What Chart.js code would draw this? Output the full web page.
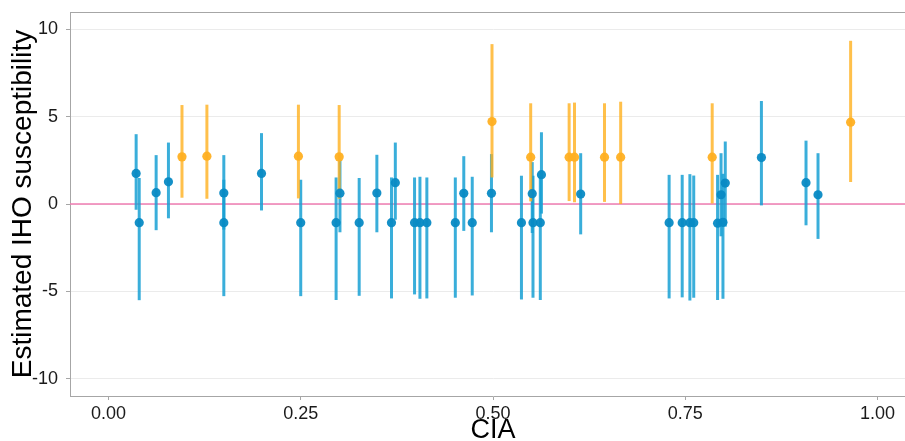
<!DOCTYPE html>
<html>
<head>
<meta charset="utf-8">
<script src="https://cdn.jsdelivr.net/npm/chart.js@4.4.1/dist/chart.umd.min.js"></script>
<style>
  html, body { margin: 0; padding: 0; background: #fff; overflow: hidden; }
  #wrap { width: 905px; height: 441px; overflow: hidden; }
</style>
</head>
<body>
<div id="wrap"><canvas id="chart" width="925" height="441"></canvas></div>
<script>
// blue group: estimate with interval
const blueCia  = [0.036, 0.040, 0.062, 0.078, 0.150, 0.150, 0.199, 0.250, 0.296, 0.301, 0.326, 0.349, 0.368, 0.373, 0.398, 0.405, 0.414, 0.451, 0.462, 0.473, 0.498, 0.537, 0.551, 0.552, 0.5615, 0.563, 0.614, 0.729, 0.746, 0.756, 0.761, 0.792, 0.7965, 0.799, 0.802, 0.849, 0.907, 0.9226];
const blueEst  = [1.75, -1.07, 0.65, 1.27, 0.63, -1.07, 1.75, -1.07, -1.07, 0.62, -1.07, 0.63, -1.07, 1.22, -1.07, -1.07, -1.07, -1.07, 0.61, -1.07, 0.61, -1.07, 0.59, -1.07, -1.07, 1.68, 0.57, -1.07, -1.07, -1.07, -1.07, -1.10, 0.53, -1.05, 1.20, 2.66, 1.22, 0.53];
const blueLow  = [-0.33, -5.51, -1.50, -0.82, -1.47, -5.28, -0.37, -5.28, -5.50, -1.62, -5.26, -1.62, -5.41, -0.90, -5.18, -5.43, -5.41, -5.37, -1.54, -5.24, -1.62, -5.47, -1.66, -5.37, -5.50, -0.55, -1.74, -5.41, -5.35, -5.53, -5.37, -5.50, -1.85, -5.43, -1.30, -0.08, -1.22, -2.00];
const blueHigh = [4.00, 1.49, 2.80, 3.52, 2.80, 1.39, 4.06, 1.39, 1.52, 2.53, 1.49, 2.82, 1.52, 3.52, 1.52, 1.56, 1.52, 1.52, 2.74, 1.56, 2.86, 1.62, 2.40, 1.62, 1.58, 4.11, 2.91, 1.67, 1.67, 1.71, 1.63, 1.67, 2.91, 1.73, 3.58, 5.90, 3.63, 2.91];

// orange group
const orangeCia  = [0.0956, 0.128, 0.247, 0.300, 0.4987, 0.549, 0.599, 0.606, 0.645, 0.666, 0.785, 0.965];
const orangeEst  = [2.70, 2.74, 2.74, 2.70, 4.72, 2.68, 2.68, 2.68, 2.68, 2.68, 2.68, 4.69];
const orangeLow  = [0.36, 0.30, 0.32, 0.30, 1.52, 0.15, 0.17, 0.10, 0.12, 0.00, 0.03, 1.26];
const orangeHigh = [5.67, 5.69, 5.69, 5.67, 9.16, 5.77, 5.77, 5.81, 5.77, 5.86, 5.77, 9.35];

const xTicks = [0, 0.25, 0.5, 0.75, 1];
const yTicks = [-10, -5, 0, 5, 10];

const groups = [
  { x: blueCia, lo: blueLow, hi: blueHigh, color: 'rgba(24,160,212,0.85)' },
  { x: orangeCia, lo: orangeLow, hi: orangeHigh, color: 'rgba(255,176,30,0.8)' }
];

const errorBars = {
  id: 'errorBars',
  beforeDatasetsDraw(chart) {
    const { ctx, chartArea: a, scales: { x, y } } = chart;
    ctx.save();
    ctx.beginPath();
    ctx.rect(a.left, a.top, a.right - a.left, a.bottom - a.top);
    ctx.clip();
    // reference line at zero
    ctx.strokeStyle = '#ef7db2';
    ctx.lineWidth = 1.3;
    ctx.beginPath();
    ctx.moveTo(a.left, y.getPixelForValue(0));
    ctx.lineTo(a.right, y.getPixelForValue(0));
    ctx.stroke();
    ctx.lineWidth = 3;
    groups.forEach(g => {
      ctx.strokeStyle = g.color;
      g.x.forEach((v, i) => {
        const px = x.getPixelForValue(v);
        ctx.beginPath();
        ctx.moveTo(px, y.getPixelForValue(g.lo[i]));
        ctx.lineTo(px, y.getPixelForValue(g.hi[i]));
        ctx.stroke();
      });
    });
    ctx.restore();
  },
  afterDraw(chart) {
    const { ctx, chartArea: a } = chart;
    ctx.save();
    ctx.strokeStyle = '#a6a6a6';
    ctx.lineWidth = 1;
    ctx.beginPath();
    ctx.moveTo(a.left, a.top + 0.5);
    ctx.lineTo(a.right, a.top + 0.5);
    ctx.stroke();
    ctx.restore();
  }
};

new Chart(document.getElementById('chart'), {
  type: 'scatter',
  data: {
    datasets: [
      { data: blueCia.map((v, i) => ({ x: v, y: blueEst[i] })), backgroundColor: 'rgba(8,138,196,0.95)', borderWidth: 0, pointRadius: 4.6 },
      { data: orangeCia.map((v, i) => ({ x: v, y: orangeEst[i] })), backgroundColor: 'rgba(255,176,34,0.95)', borderWidth: 0, pointRadius: 4.6 }
    ]
  },
  options: {
    responsive: false,
    animation: false,
    devicePixelRatio: 1,
    layout: { padding: { top: 12, left: 0, right: 9, bottom: 0 } },
    plugins: { legend: { display: false }, tooltip: { enabled: false } },
    scales: {
      x: {
        type: 'linear', min: -0.05, max: 1.05,
        afterBuildTicks: s => { s.ticks = xTicks.map(v => ({ value: v })); },
        afterFit: s => { s.height = 45; s.paddingLeft = 0; s.paddingRight = 0; },
        grid: { drawOnChartArea: false, drawTicks: true, tickLength: 4, tickColor: '#a6a6a6' },
        border: { display: true, color: '#a6a6a6', width: 1 },
        ticks: { color: '#1a1a1a', padding: 3, maxRotation: 0, font: { family: 'Liberation Sans', size: 18 }, callback: v => v.toFixed(2) },
        title: { display: true, text: 'CIA', color: '#000', padding: { top: 0, bottom: -3 }, font: { family: 'Liberation Sans', size: 27, lineHeight: 1.0 } }
      },
      y: {
        type: 'linear', min: -11, max: 11,
        afterBuildTicks: s => { s.ticks = yTicks.map(v => ({ value: v })); },
        afterFit: s => { s.width = 70; s.paddingTop = 0; s.paddingBottom = 0; },
        grid: { color: '#ebebeb', lineWidth: 1, drawTicks: true, tickLength: 4, tickColor: '#a6a6a6' },
        border: { display: true, color: '#a6a6a6', width: 1 },
        ticks: { color: '#1a1a1a', padding: 8, font: { family: 'Liberation Sans', size: 18 } },
        title: { display: true, text: 'Estimated IHO susceptibility', color: '#000', padding: { top: 9, bottom: 0 }, font: { family: 'Liberation Sans', size: 28, lineHeight: 1.0 } }
      }
    }
  },
  plugins: [errorBars]
});
</script>
</body>
</html>
